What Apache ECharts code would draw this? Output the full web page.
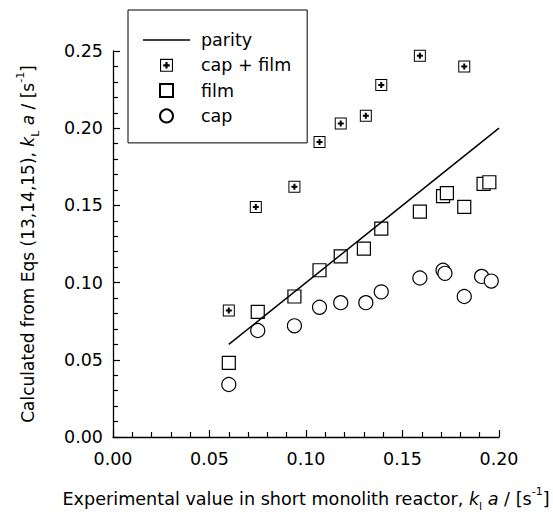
<!DOCTYPE html>
<html>
<head>
<meta charset="utf-8">
<script src="https://cdn.jsdelivr.net/npm/echarts@6/dist/echarts.min.js"></script>
<style>
  html, body { margin: 0; padding: 0; background: #fff; }
  #chart { width: 553px; height: 515px; }
</style>
</head>
<body>
<div id="chart"></div>
<script>
// parity line end points
const parityX = [0.06, 0.20];
const parityY = [0.06, 0.20];

// cap + film
const capFilmX = [0.060, 0.074, 0.094, 0.107, 0.118, 0.131, 0.139, 0.159, 0.182];
const capFilmY = [0.082, 0.149, 0.162, 0.191, 0.203, 0.208, 0.228, 0.247, 0.240];

// film only
const filmX = [0.060, 0.075, 0.094, 0.107, 0.118, 0.130, 0.139, 0.159, 0.171, 0.173, 0.182, 0.192, 0.195];
const filmY = [0.048, 0.081, 0.091, 0.108, 0.117, 0.122, 0.135, 0.146, 0.156, 0.158, 0.149, 0.164, 0.165];

// cap only
const capX = [0.060, 0.075, 0.094, 0.107, 0.118, 0.131, 0.139, 0.159, 0.171, 0.172, 0.182, 0.191, 0.196];
const capY = [0.034, 0.069, 0.072, 0.084, 0.087, 0.087, 0.094, 0.103, 0.108, 0.106, 0.091, 0.104, 0.101];

const xTicks = [0, 0.05, 0.10, 0.15, 0.20];
const yTicks = [0, 0.05, 0.10, 0.15, 0.20, 0.25];

const zip = (xs, ys) => xs.map((x, i) => [x, ys[i]]);

// square outline with a bold plus, holes by opposite winding
const plusBox = 'path://M0 0H12V12H0Z M1 1V11H11V1Z M5 3H7V5H9V7H7V9H5V7H3V5H5Z';
const squareIcon = 'path://M0 0H12V12H0Z';
const lineIcon = 'path://M0 0H47V1.5H0Z';

const FONT = 'DejaVu Sans';
const FS = 17.5;
const makeRich = (fs) => ({
  i: { fontFamily: FONT, fontSize: fs, fontStyle: 'italic', color: '#000' },
  sub: { fontFamily: FONT, fontSize: 11, verticalAlign: 'bottom', color: '#000' },
  sup: { fontFamily: FONT, fontSize: 11, verticalAlign: 'top', color: '#000' }
});

const chart = echarts.init(document.getElementById('chart'), null, { renderer: 'svg' });

chart.setOption({
  animation: false,
  textStyle: { fontFamily: FONT, color: '#000' },
  grid: { left: 113, right: 54, top: 51, bottom: 78, outerBoundsMode: 'none' },
  legend: {
    orient: 'vertical',
    left: 128,
    top: 10,
    padding: [21, 16, 18, 15],
    itemWidth: 47,
    itemHeight: 13,
    itemGap: 7.3,
    borderColor: '#000',
    borderWidth: 1,
    textStyle: { fontFamily: FONT, fontSize: FS, lineHeight: 18, color: '#000', padding: [0, 0, 0, 6] },
    data: [
      { name: 'parity', icon: lineIcon },
      'cap + film',
      { name: 'film', icon: squareIcon },
      'cap'
    ]
  },
  xAxis: {
    type: 'value',
    min: xTicks[0],
    max: xTicks[xTicks.length - 1],
    interval: 0.05,
    splitLine: { show: false },
    axisLine: { onZero: false, lineStyle: { color: '#000', width: 1.3 } },
    axisTick: { inside: true, length: 7, lineStyle: { color: '#000', width: 1.2 } },
    minorTick: { show: true, splitNumber: 5, length: 5, lineStyle: { color: '#000', width: 1.2 } },
    axisLabel: { color: '#000', fontSize: FS, margin: 13, formatter: v => v.toFixed(2) },
    name: 'Experimental value in short monolith reactor, {i|k}{sub|l} {i|a} / [s{sup|-1}]',
    nameLocation: 'middle',
    nameGap: 49,
    nameTextStyle: { fontFamily: FONT, fontSize: 17.6, color: '#000', lineHeight: 26, rich: makeRich(17.6) }
  },
  yAxis: {
    type: 'value',
    min: yTicks[0],
    max: yTicks[yTicks.length - 1],
    interval: 0.05,
    splitLine: { show: false },
    axisLine: { onZero: false, lineStyle: { color: '#000', width: 1.3 } },
    axisTick: { inside: true, length: 7, lineStyle: { color: '#000', width: 1.2 } },
    minorTick: { show: true, splitNumber: 5, length: 5, lineStyle: { color: '#000', width: 1.2 } },
    axisLabel: { color: '#000', fontSize: FS, margin: 10, formatter: v => v.toFixed(2) },
    name: 'Calculated from Eqs (13,14,15), {i|k}{sub|L} {i|a} / [s{sup|-1}]',
    nameLocation: 'middle',
    nameGap: 72,
    nameTextStyle: { fontFamily: FONT, fontSize: 17, color: '#000', lineHeight: 26, rich: makeRich(17) }
  },
  series: [
    {
      name: 'parity',
      type: 'line',
      data: zip(parityX, parityY),
      symbol: 'none',
      lineStyle: { color: '#000', width: 1.5 },
      itemStyle: { color: '#000' }
    },
    {
      name: 'cap + film',
      type: 'scatter',
      data: zip(capFilmX, capFilmY),
      symbol: plusBox,
      symbolSize: 12,
      itemStyle: { color: '#000', opacity: 1 }
    },
    {
      name: 'film',
      type: 'scatter',
      data: zip(filmX, filmY),
      symbol: 'rect',
      symbolSize: 13,
      itemStyle: { color: '#fff', borderColor: '#000', borderWidth: 1.2, opacity: 1 }
    },
    {
      name: 'cap',
      type: 'scatter',
      data: zip(capX, capY),
      symbol: 'circle',
      symbolSize: 14,
      itemStyle: { color: '#fff', borderColor: '#000', borderWidth: 1.2, opacity: 1 }
    }
  ]
});
</script>
</body>
</html>
